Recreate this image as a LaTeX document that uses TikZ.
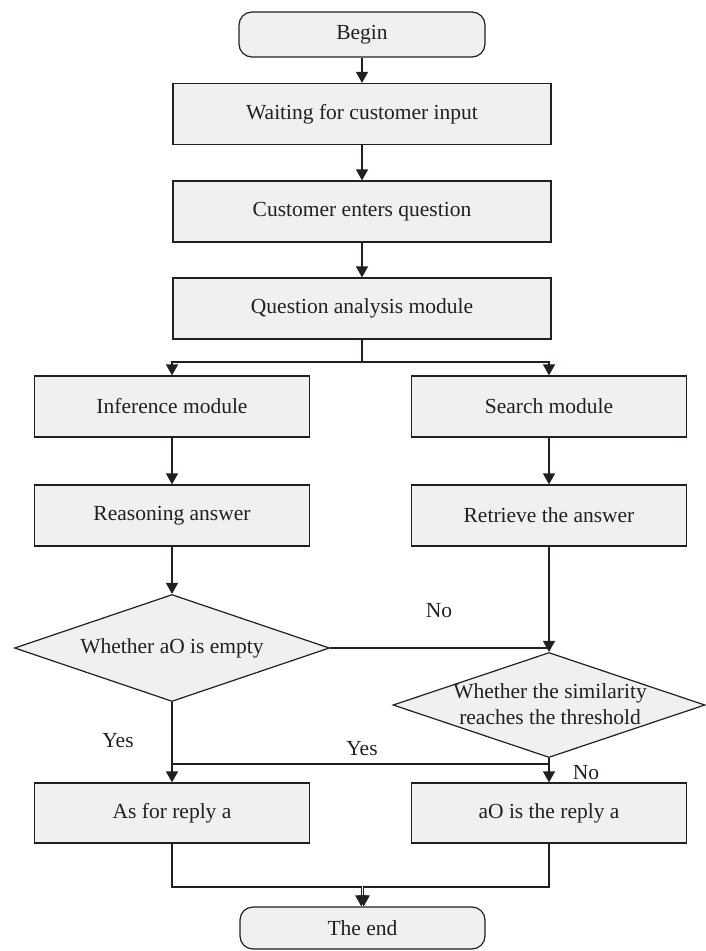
\documentclass[tikz,border=0pt]{standalone}
\usepackage{fontspec}
\setmainfont{Liberation Serif}
\usetikzlibrary{shapes.geometric,arrows.meta}
\definecolor{boxfill}{RGB}{240,240,240}
\definecolor{ink}{RGB}{35,31,32}
\begin{document}
\begin{tikzpicture}[x=1pt,y=-1pt,
  every node/.style={font=\fontsize{21.5}{26}\selectfont, text=ink},
  shapeline/.style={draw=ink, fill=boxfill, line width=1.2pt, inner sep=0pt},
  terminal/.style={shapeline, rounded corners=13pt, minimum width=246pt, minimum height=45pt},
  widebox/.style={shapeline, minimum width=378pt, minimum height=61pt},
  halfbox/.style={shapeline, minimum width=275pt, minimum height=61pt},
  decision/.style={shapeline, diamond},
  conn/.style={draw=ink, line width=1.2pt},
  arr/.style={conn, -{Triangle[width=12pt,length=11pt]}},
  lbl/.style={inner sep=0pt}]
\useasboundingbox (0,0) rectangle (705,951);

% main column
\node[terminal] (begin) at (362,34.5) {Begin};
\node[widebox] (wait) at (362,114) {Waiting for customer input};
\node[widebox] (cust) at (362,211.5) {Customer enters question};
\node[widebox] (qa) at (362,308.5) {Question analysis module};

% two branches
\node[halfbox] (inf) at (172,406.5) {Inference module};
\node[halfbox] (search) at (549,406.5) {Search module};
\node[halfbox] (reason) at (172,515.5) {Reasoning answer};
\node[halfbox] (retr) at (549,515.5) {Retrieve the answer};

% decisions
\node[decision, minimum width=315pt, minimum height=107pt] (d1) at (172,648) {};
\node[lbl] at (d1) {Whether aO is empty};
\node[decision, minimum width=312pt, minimum height=105pt] (d2) at (549,705) {};
\node[lbl, align=center] at (550,704) {Whether the similarity\\reaches the threshold};

% results
\node[halfbox, minimum height=60pt] (asfor) at (172,813) {As for reply a};
\node[halfbox, minimum height=60pt] (reply) at (549,813) {aO is the reply a};
\node[terminal, minimum width=245pt, minimum height=42pt] (end) at (362.5,928) {The end};

% connectors
\draw[arr] (begin) -- (wait);
\draw[arr] (wait) -- (cust);
\draw[arr] (cust) -- (qa);
\coordinate (split) at (362,362);
\draw[conn] (qa) -- (split);
\draw[arr] (split) -| (inf);
\draw[arr] (split) -| (search);
\draw[arr] (inf) -- (reason);
\draw[arr] (search) -- (retr);
\draw[arr] (reason) -- (d1);
\draw[arr] (retr) -- (d2);
\draw[conn] (d1.east) -- (d1.east -| d2.north);
\node[lbl] at (439,611) {No};

\draw[arr] (d1) -- (asfor);
\draw[arr] (d2) -- (reply);
\coordinate (yesr) at (549,764);
\draw[conn] (yesr) -- (yesr -| asfor.north);
\node[lbl] at (118,741) {Yes};
\node[lbl] at (362,749) {Yes};
\node[lbl] at (586,773) {No};

\coordinate (mid) at (362.5,887);
\coordinate (jl) at ([xshift=-1.2pt]end.north);
\coordinate (jr) at ([xshift=1.2pt]end.north);
\draw[arr] (asfor) |- ([xshift=-1.2pt]mid) -- (jl);
\draw[arr] (reply) |- ([xshift=1.2pt]mid) -- (jr);
\end{tikzpicture}
\end{document}
